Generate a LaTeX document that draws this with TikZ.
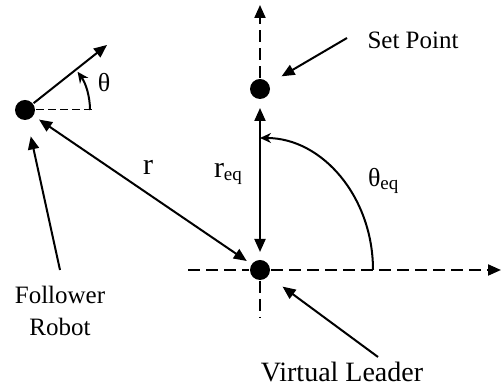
\documentclass[tikz,border=0pt]{standalone}
\usepackage{fontspec}
\setmainfont{Liberation Serif}
\usetikzlibrary{arrows.meta,positioning,calc}
\tikzset{
  dot/.style={circle,fill,inner sep=0pt,minimum size=20pt},
  lbl/.style={font=\fontsize{25}{32}\selectfont,inner sep=0pt,align=center},
  sym/.style={font=\fontsize{30}{30}\selectfont,inner sep=0pt},
}
\newcommand{\subtxt}[1]{\raisebox{-3pt}{\fontsize{19}{19}\selectfont #1}}

\begin{document}
\begin{tikzpicture}[x=1pt,y=1pt,line width=2pt,
  ar/.style={-{Triangle[length=13pt,width=11pt]}},
  dar/.style={{Triangle[length=13pt,width=11pt]}-{Triangle[length=13pt,width=11pt]}},
  ax/.style={dash pattern=on 12pt off 6pt},
  ang/.style={-{Stealth[length=11pt,width=10pt]}}]
  \useasboundingbox (0,0) rectangle (501,387);
  % points
  \node[dot] (robot) at (25,277) {};
  \node[dot] (leader) at (260,117) {};
  \node[dot] (setpt) at (260,298) {};
  \coordinate (head) at (107,342);
  \coordinate (ref) at (95,277);
  \coordinate (hleft) at (188,117);
  \coordinate (hright) at (501,117);
  \coordinate (vdown) at (260,69);
  \coordinate (vup) at (260,382);
  % axes
  \draw[ax] (hleft) -- (leader.west);
  \draw[ax,ar] (leader.east) -- (hright);
  \draw[ax] (leader.south) -- (vdown);
  \draw[ax,ar] (setpt.north) -- (vup);
  % follower heading
  \draw[ar] (robot) -- (head);
  \draw[line width=1pt,dash pattern=on 8pt off 4pt] (robot.east) -- (ref);
  \draw[ang] ($(robot)+(65,0)$) arc[start angle=0,end angle=36,radius=65];
  \node[sym,font=\fontsize{26}{26}\selectfont,anchor=base] (th) at (104,295) {θ};
  % distances
  \draw[dar,shorten <=6pt,shorten >=5pt] (robot) -- (leader);
  \node[sym,anchor=base] (r) at (148,212) {r};
  \draw[dar,shorten <=8pt,shorten >=7pt] (setpt) -- (leader);
  \node[sym,anchor=base west] (req) at (213,209) {r\subtxt{eq}};
  \draw[ang] ($(leader)+(113,0)$) arc[start angle=0,end angle=90,x radius=113,y radius=132];
  \node[sym,font=\fontsize{26}{26}\selectfont,anchor=base west] (theq) at (367,200) {θ\subtxt{eq}};
  % labels
  \node[lbl,anchor=base] (setlbl) at (413,338) {Set Point};
  \coordinate (stail) at (347,349);
  \draw[ar,shorten >=14pt] (stail) -- (setpt);
  \node[lbl] (follbl) at (60,76) {Follower\\Robot};
  \coordinate (ftail) at (60,117);
  \draw[ar,shorten >=16pt] (ftail) -- (robot);
  \node[lbl,font=\fontsize{28}{28}\selectfont,anchor=base] (vllbl) at (342,5) {Virtual Leader};
  \coordinate (vtail) at (378,30);
  \draw[ar,shorten >=17pt] (vtail) -- (leader);
\end{tikzpicture}
\end{document}
